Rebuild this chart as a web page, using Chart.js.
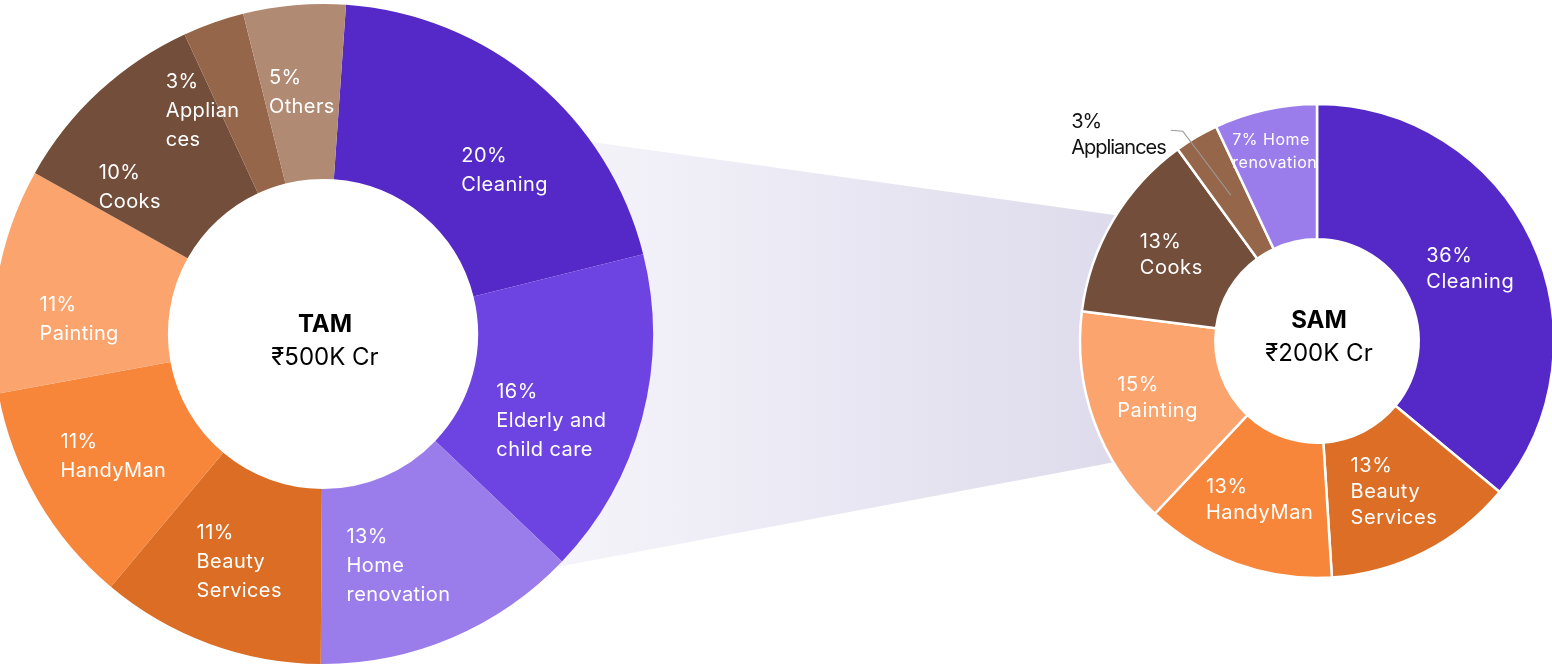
<!DOCTYPE html>
<html>
<head>
<meta charset="utf-8">
<script src="https://cdn.jsdelivr.net/npm/chart.js@4.4.0/dist/chart.umd.min.js"></script>
<style>
  html, body { margin: 0; padding: 0; background: #fff; overflow: hidden; }
  #wrap { position: relative; width: 1552px; height: 668px; }
  /* band joining the two rings */
  #band {
    position: absolute; left: 0; top: 0; width: 1552px; height: 668px;
    background: linear-gradient(90deg, #f5f4fa 560px, #dedbec 1115px);
    clip-path: polygon(520px 132px, 1200px 227px, 1200px 446px, 520px 574px);
  }
  canvas { position: absolute; }
  #tam { left: -11px; top: 0; }
  #sam { left: 1057px; top: 81px; }
</style>
</head>
<body>
<div id="wrap">
  <div id="band"></div>
  <canvas id="tam" width="668" height="668"></canvas>
  <canvas id="sam" width="520" height="520"></canvas>
</div>
<script>
// TAM split
const tamCategories = [['Cleaning'], ['Elderly and', 'child care'], ['Home', 'renovation'], ['Beauty', 'Services'],
  ['HandyMan'], ['Painting'], ['Cooks'], ['Applian', 'ces'], ['Others']];
const tamValues = [20, 16, 13, 11, 11, 11, 10, 3, 5];
const tamColors = ['#5529c7', '#6d43e2', '#9b7ceb', '#db6d24', '#f7863a', '#fba46d', '#734e3b', '#96664b', '#b08a73'];

// SAM split
const samCategories = [['Cleaning'], ['Beauty', 'Services'], ['HandyMan'], ['Painting'], ['Cooks'], ['Appliances'], ['Home', 'renovation']];
const samValues = [36, 13, 13, 15, 13, 3, 7];
const samColors = ['#5529c7', '#dc6e26', '#f7863a', '#fba46d', '#734e3b', '#96664b', '#9b7ceb'];

const FONT = 'Inter, "Noto Sans", sans-serif';

function drawBlock(ctx, lines, left, top, lh) {
  lines.forEach((l, k) => ctx.fillText(l, left, top + lh * k + lh / 2));
}

// percentage + name written inside each slice (or outside with a leader line)
const sliceLabels = {
  id: 'sliceLabels',
  afterDatasetsDraw(chart, args, opts) {
    const ctx = chart.ctx;
    const meta = chart.getDatasetMeta(0);
    const values = chart.data.datasets[0].data;
    ctx.save();
    ctx.textBaseline = 'middle';
    ctx.textAlign = 'left';
    meta.data.forEach((arc, i) => {
      const p = arc.getProps(['x', 'y', 'startAngle', 'endAngle', 'innerRadius', 'outerRadius']);
      const s = Object.assign({}, opts.base, (opts.special || {})[i]);
      // some blocks get swung a few degrees inside their slice to make room
      const mid = (p.startAngle + p.endAngle) / 2 + (s.shift || 0) * Math.PI / 180;
      const r = p.innerRadius + (p.outerRadius - p.innerRadius) * s.at;
      const px = p.x + Math.cos(mid) * r;
      const py = p.y + Math.sin(mid) * r;
      const name = chart.data.labels[i];
      const lines = s.inline ? [values[i] + '% ' + name[0]].concat(name.slice(1)) : [values[i] + '%'].concat(name);
      ctx.font = s.size + 'px ' + FONT;
      ctx.letterSpacing = s.spacing || '0px';
      ctx.fillStyle = s.color;
      const w = Math.max(...lines.map(l => ctx.measureText(l).width));
      const h = lines.length * s.lh;
      if (s.outside) {
        const ex = px - 48, ey = py - 64;
        ctx.strokeStyle = '#9a9a9a';
        ctx.lineWidth = 1.2;
        ctx.beginPath();
        ctx.moveTo(px, py);
        ctx.lineTo(ex, ey);
        ctx.lineTo(ex - 12, ey - 1);
        ctx.stroke();
        drawBlock(ctx, lines, ex - 17 - w, ey + 4 - h / 2, s.lh);
      } else {
        drawBlock(ctx, lines, px - w / 2, py - h / 2, s.lh);
      }
    });
    ctx.restore();
  }
};

// market name and size in the hole
const centerText = {
  id: 'centerText',
  afterDraw(chart, args, opts) {
    const ctx = chart.ctx;
    const arc = chart.getDatasetMeta(0).data[0];
    ctx.save();
    ctx.textAlign = 'center';
    ctx.textBaseline = 'middle';
    ctx.fillStyle = '#000';
    ctx.font = 'bold 24px ' + FONT;
    ctx.fillText(opts.title, arc.x + 2, arc.y + opts.dy);
    ctx.font = '24px ' + FONT;
    ctx.fillText(opts.value, arc.x + 2, arc.y + opts.dy + 33);
    ctx.restore();
  }
};

new Chart(document.getElementById('tam'), {
  type: 'doughnut',
  data: {
    labels: tamCategories,
    datasets: [{ data: tamValues, backgroundColor: tamColors, borderWidth: 0 }]
  },
  options: {
    responsive: false,
    animation: false,
    events: [],
    rotation: 4,
    radius: 330,
    cutout: 157,
    layout: { padding: 0 },
    plugins: {
      legend: { display: false },
      tooltip: { enabled: false },
      sliceLabels: {
        base: { at: 0.5, size: 20, lh: 29, color: '#fff', spacing: '0.4px' },
        special: {
          0: { at: 0.51, shift: 8 },
          1: { at: 0.51, shift: 6 },
          2: { at: 0.51, shift: 5 },
          5: { at: 0.51, shift: -6 },
          6: { shift: -10 },
          7: { at: 0.56, shift: -9 }
        }
      },
      centerText: { title: 'TAM', value: '₹500K Cr', dy: -9 }
    }
  },
  plugins: [sliceLabels, centerText]
});

new Chart(document.getElementById('sam'), {
  type: 'doughnut',
  data: {
    labels: samCategories,
    datasets: [{ data: samValues, backgroundColor: samColors, borderColor: '#fff', borderWidth: 2.5 }]
  },
  options: {
    responsive: false,
    animation: false,
    events: [],
    radius: 237,
    cutout: 111,
    layout: { padding: 0 },
    plugins: {
      legend: { display: false },
      tooltip: { enabled: false },
      sliceLabels: {
        base: { at: 0.5, size: 20, lh: 26, color: '#fff', spacing: '0.6px' },
        special: {
          5: { outside: true, color: '#111', spacing: '-1px' },
          6: { at: 0.68, size: 16, lh: 23, inline: true, spacing: '0.5px' }
        }
      },
      centerText: { title: 'SAM', value: '₹200K Cr', dy: -20 }
    }
  },
  plugins: [sliceLabels, centerText]
});
</script>
</body>
</html>
